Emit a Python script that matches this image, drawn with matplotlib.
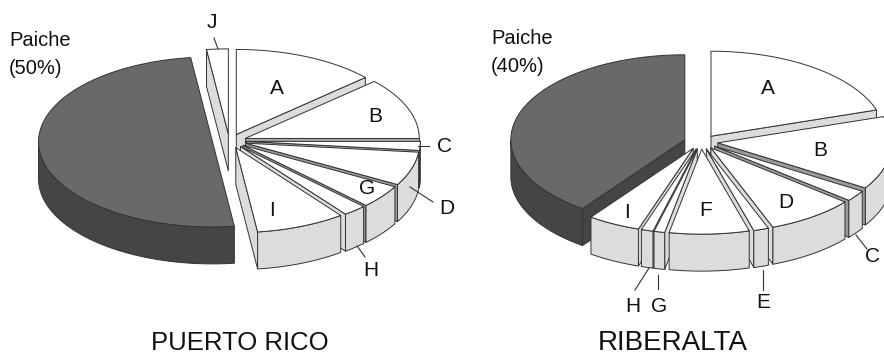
import numpy as np
from matplotlib import pyplot as plt
from matplotlib.patches import Polygon

plt.rcParams['font.family'] = ['Liberation Sans', 'DejaVu Sans']

# shares in percent, clockwise from 12 o'clock
pr_names = ['A', 'B', 'C', 'D', 'G', 'H', 'I', 'Paiche', 'J']
pr_values = [13.3, 11.7, 1.7, 6.4, 4.4, 2.2, 8.3, 50.0, 2.0]
rb_names = ['A', 'B', 'C', 'D', 'E', 'F', 'G', 'H', 'I', 'Paiche']
rb_values = [20.0, 13.9, 2.1, 8.2, 1.4, 7.4, 1.0, 1.1, 4.9, 40.0]

RX, RY = 174, 85      # radii of the top face, px
DEPTH = 37
EXPLODE = 17
SQUASH = 0.42


def wall_colour(a):
    # side walls get darker when they face right
    if 75 < a <= 100:
        return '#a8a8a8'
    if 100 < a < 140:
        return '#999999'
    return '#dcdcdc'


def pt(cx, cy, a):
    r = np.radians(a)
    return cx + RX * np.sin(r), cy - RY * np.cos(r)


def add(ax, xy, fc):
    ax.add_patch(Polygon(xy, closed=True, fc=fc, ec='#333333', lw=0.7, joinstyle='round'))


def draw_pie(ax, cx, cy, names, values):
    edges = np.concatenate([[0], np.cumsum(values)]) * 3.6
    slices = []
    for i, name in enumerate(names):
        slices.append((edges[i], edges[i + 1], name))
    # painter's order, back of the pie first
    slices.sort(key=lambda s: -np.cos(np.radians((s[0] + s[1]) / 2)))
    for a0, a1, name in slices:
        mid = np.radians((a0 + a1) / 2)
        x0 = cx + EXPLODE * np.sin(mid)
        y0 = cy - EXPLODE * SQUASH * np.cos(mid)
        dark = name == 'Paiche'
        # visible cut faces
        for a, seen in ((a0, np.sin(np.radians(a0)) < -1e-6), (a1, np.sin(np.radians(a1)) > 1e-6)):
            if seen:
                x, y = pt(x0, y0, a)
                add(ax, [(x0, y0), (x, y), (x, y + DEPTH), (x0, y0 + DEPTH)],
                    '#454545' if dark else wall_colour(a))
        # rim, only the part facing us
        lo, hi = max(a0, 90), min(a1, 270)
        if hi > lo:
            t = np.linspace(lo, hi, 60)
            xs, ys = pt(x0, y0, t)
            rim = list(zip(xs, ys)) + list(zip(xs[::-1], ys[::-1] + DEPTH))
            add(ax, rim, '#454545' if dark else '#dcdcdc')
        t = np.linspace(a0, a1, 120)
        xs, ys = pt(x0, y0, t)
        add(ax, [(x0, y0)] + list(zip(xs, ys)), '#696969' if dark else 'white')


fig = plt.figure(figsize=(8.84, 3.57), dpi=100)
ax = fig.add_axes([0, 0, 1, 1])
ax.set_xlim(0, 884)
ax.set_ylim(357, 0)
ax.axis('off')

draw_pie(ax, 229.4, 141, pr_names, pr_values)
draw_pie(ax, 701, 142, rb_names, rb_values)

# labels: text, x, y
labels = [('J', 212, 22), ('A', 277, 88), ('B', 375, 117), ('C', 444, 146), ('D', 447, 208),
          ('G', 367, 188), ('H', 371, 270), ('I', 272, 210),
          ('A', 768, 89), ('B', 820, 150), ('C', 872, 257), ('D', 786, 203), ('E', 763, 303),
          ('F', 706, 210), ('G', 659, 306), ('H', 633, 307), ('I', 627, 212)]
for s, x, y in labels:
    ax.text(x, y, s, fontsize=15, ha='center', va='center', color='#111111')

leaders = [((214, 38), (218, 49)), ((418, 146), (429, 146)), ((410, 187), (433, 202)),
           ((357, 246), (365, 257)), ((856, 235), (867, 249)), ((763, 270), (763, 290)),
           ((658, 275), (658, 289)), ((649, 268), (635, 290))]
for p, q in leaders:
    ax.plot([p[0], q[0]], [p[1], q[1]], color='#333333', lw=0.8)

ax.text(9, 41, 'Paiche', fontsize=14.5, ha='left', va='center', color='#111111')
ax.text(9, 69, '(50%)', fontsize=14.5, ha='left', va='center', color='#111111')
ax.text(491, 38, 'Paiche', fontsize=14.5, ha='left', va='center', color='#111111')
ax.text(491, 66, '(40%)', fontsize=14.5, ha='left', va='center', color='#111111')

ax.text(240, 343, 'PUERTO RICO', fontsize=18.5, ha='center', va='center', color='#111111')
ax.text(673, 343, 'RIBERALTA', fontsize=20, ha='center', va='center', color='#111111')

plt.savefig('out.png', dpi=100)
